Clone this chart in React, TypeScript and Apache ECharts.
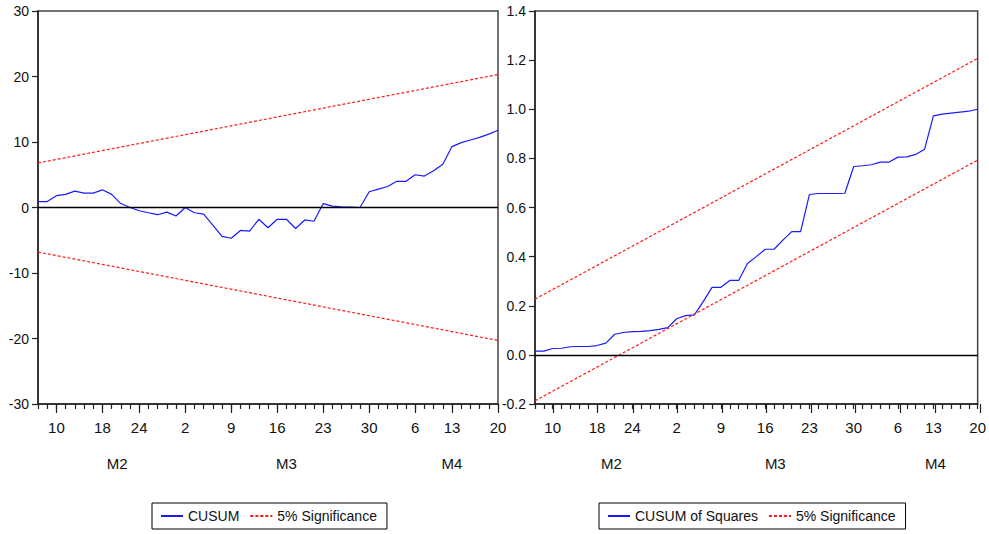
import React, { useEffect, useRef } from "react";
import * as echarts from "echarts";

// ---- Data ----
const febDays = [6, 7, 10, 11, 12, 13, 14, 18, 19, 20, 21, 24, 25, 26, 27, 28];
const marDays = [2, 3, 4, 5, 6, 9, 10, 11, 12, 13, 16, 17, 18, 19, 20, 23, 24, 25, 26, 27, 30, 31];
const aprDays = [1, 2, 3, 6, 7, 8, 9, 13, 14, 15, 16, 17, 20];

const pad = (n: number) => (n < 10 ? "0" + n : String(n));
const dates: string[] = [
  ...febDays.map((d) => "2020-02-" + pad(d)),
  ...marDays.map((d) => "2020-03-" + pad(d)),
  ...aprDays.map((d) => "2020-04-" + pad(d)),
];

const labeledDates = [
  "2020-02-10", "2020-02-18", "2020-02-24", "2020-03-02", "2020-03-09", "2020-03-16",
  "2020-03-23", "2020-03-30", "2020-04-06", "2020-04-13", "2020-04-20",
];

const monthLabels = ["M2", "M3", "M4"];

const cusum = [
  0.9, 0.9, 1.8, 2.0, 2.5, 2.2, 2.2, 2.7, 2.0, 0.6,
  0.0, -0.5, -0.8, -1.1, -0.7, -1.3, 0.0, -0.8, -1.0, -2.7,
  -4.4, -4.7, -3.5, -3.6, -1.8, -3.1, -1.8, -1.8, -3.2, -1.9,
  -2.1, 0.6, 0.2, 0.1, 0.05, 0.0, 2.4, 2.8, 3.2, 4.0,
  4.0, 5.0, 4.8, 5.6, 6.6, 9.3, 9.9, 10.3, 10.7, 11.2,
  11.8,
];
const cusumUpperEnds = [6.8, 20.3];
const cusumLowerEnds = [-6.8, -20.3];

const cusumSq = [
  0.015, 0.015, 0.026, 0.027, 0.033, 0.034, 0.034, 0.038, 0.048, 0.084,
  0.091, 0.095, 0.096, 0.099, 0.104, 0.111, 0.147, 0.16, 0.163, 0.217,
  0.275, 0.275, 0.303, 0.303, 0.372, 0.40, 0.43, 0.43, 0.467, 0.502,
  0.502, 0.653, 0.657, 0.657, 0.657, 0.658, 0.767, 0.77, 0.774, 0.785,
  0.785, 0.805, 0.806, 0.816, 0.837, 0.973, 0.98, 0.984, 0.988, 0.992,
  1.0,
];
const sqUpperEnds = [0.227, 1.207];
const sqLowerEnds = [-0.187, 0.793];

// ---- Layout / style ----
const FONT = "'Liberation Sans', Arial, sans-serif";
const GL = { left: 38, top: 11, width: 460, height: 393 };
const GR = { left: 535, top: 11, width: 445, height: 393 };
const monthAnchor = [8.6, 27, 45];
const BLUE = "#1a1aff";
const RED = "#ff1a1a";

const endsToSeries = (ends: number[]) =>
  dates.map((_, i) => (i === 0 ? ends[0] : i === dates.length - 1 ? ends[1] : null));

export default function App() {
  const ref = useRef<HTMLDivElement>(null);

  useEffect(() => {
    if (!ref.current) return;
    const chart = echarts.init(ref.current, undefined, { renderer: "svg" });
    const labeled = new Set(labeledDates);
    const axisColor = "#222";

    const mainX = (gridIndex: number) => ({
      type: "category",
      gridIndex,
      data: dates,
      boundaryGap: false,
      axisLine: { show: true, onZero: false, lineStyle: { color: axisColor, width: 1.5 } },
      axisTick: { show: true, interval: 0, length: 5, lineStyle: { color: axisColor, width: 1.2 } },
      axisLabel: {
        interval: (_i: number, v: string) => labeled.has(v),
        formatter: (v: string) => String(Number(v.slice(8))),
        color: "#111",
        fontSize: 15,
        fontFamily: FONT,
        margin: 16,
      },
      splitLine: { show: false },
    });
    const longTickX = (gridIndex: number) => ({
      type: "category",
      gridIndex,
      data: dates,
      boundaryGap: false,
      axisLine: { show: false, onZero: false },
      axisTick: {
        show: true,
        interval: (_i: number, v: string) => labeled.has(v),
        length: 9,
        lineStyle: { color: axisColor, width: 1.2 },
      },
      axisLabel: { show: false },
      splitLine: { show: false },
    });
    const hiddenY = (gridIndex: number) => ({
      type: "value",
      gridIndex,
      show: false,
      min: 0,
      max: 1,
    });

    const zeroLine = {
      silent: true,
      symbol: ["none", "none"],
      label: { show: false },
      lineStyle: { color: "#000", type: "solid", width: 1.3 },
      data: [{ yAxis: 0 }],
    };

    const boundStyle = { color: RED, width: 1.2, type: [3, 2] };

    const monthText = (g: typeof GL) =>
      monthLabels.map((m, i) => ({
        type: "text",
        x: g.left + (monthAnchor[i] / (dates.length - 1)) * g.width,
        y: 463,
        style: {
          text: m,
          align: "center",
          verticalAlign: "middle",
          fontSize: 15,
          fontFamily: FONT,
          fill: "#111",
        },
      }));

    const legendBase = {
      orient: "horizontal",
      top: 503,
      borderColor: "#000",
      borderWidth: 1,
      padding: [6, 10, 6, 8],
      itemGap: 10,
      itemWidth: 22,
      itemHeight: 12,
      selectedMode: false,
      itemStyle: { opacity: 0 },
      textStyle: { fontSize: 14, fontFamily: FONT, color: "#111" },
    };

    chart.setOption({
      animation: false,
      backgroundColor: "#fff",
      grid: [
        { ...GL, show: true, borderColor: "#444", borderWidth: 1.5, backgroundColor: "transparent" },
        { ...GR, show: true, borderColor: "#444", borderWidth: 1.5, backgroundColor: "transparent" },
        { ...GL, show: false },
        { ...GR, show: false },
      ],
      xAxis: [mainX(0), mainX(1), longTickX(2), longTickX(3)],
      yAxis: [
        {
          type: "value",
          gridIndex: 0,
          min: -30,
          max: 30,
          interval: 10,
          axisLine: { show: true, lineStyle: { color: axisColor, width: 1.5 } },
          axisTick: { show: true, length: 6, lineStyle: { color: axisColor, width: 1.2 } },
          axisLabel: { color: "#111", fontSize: 14, fontFamily: FONT, margin: 9 },
          splitLine: { show: false },
        },
        {
          type: "value",
          gridIndex: 1,
          min: -0.2,
          max: 1.4,
          interval: 0.2,
          axisLine: { show: true, lineStyle: { color: axisColor, width: 1.5 } },
          axisTick: { show: true, length: 6, lineStyle: { color: axisColor, width: 1.2 } },
          axisLabel: {
            color: "#111",
            fontSize: 14,
            fontFamily: FONT,
            margin: 9,
            formatter: (v: number) => v.toFixed(1),
          },
          splitLine: { show: false },
        },
        hiddenY(2),
        hiddenY(3),
      ],
      legend: [
        { ...legendBase, left: 152, data: ["CUSUM", "5% Significance"] },
        { ...legendBase, left: 599, data: ["CUSUM of Squares", "5% Significance"] },
      ],
      series: [
        {
          name: "CUSUM",
          type: "line",
          xAxisIndex: 0,
          yAxisIndex: 0,
          data: cusum,
          symbol: "none",
          lineStyle: { color: BLUE, width: 1.2 },
          itemStyle: { color: BLUE },
          markLine: zeroLine,
          z: 3,
        },
        {
          name: "5% Significance",
          type: "line",
          xAxisIndex: 0,
          yAxisIndex: 0,
          data: endsToSeries(cusumUpperEnds),
          connectNulls: true,
          symbol: "none",
          lineStyle: boundStyle,
          itemStyle: { color: RED },
        },
        {
          name: "5% Significance",
          type: "line",
          xAxisIndex: 0,
          yAxisIndex: 0,
          data: endsToSeries(cusumLowerEnds),
          connectNulls: true,
          symbol: "none",
          lineStyle: boundStyle,
          itemStyle: { color: RED },
        },
        {
          name: "CUSUM of Squares",
          type: "line",
          xAxisIndex: 1,
          yAxisIndex: 1,
          data: cusumSq,
          symbol: "none",
          lineStyle: { color: BLUE, width: 1.2 },
          itemStyle: { color: BLUE },
          markLine: zeroLine,
          z: 3,
        },
        {
          name: "5% Significance",
          type: "line",
          xAxisIndex: 1,
          yAxisIndex: 1,
          data: endsToSeries(sqUpperEnds),
          connectNulls: true,
          symbol: "none",
          lineStyle: boundStyle,
          itemStyle: { color: RED },
        },
        {
          name: "5% Significance",
          type: "line",
          xAxisIndex: 1,
          yAxisIndex: 1,
          data: endsToSeries(sqLowerEnds),
          connectNulls: true,
          symbol: "none",
          lineStyle: boundStyle,
          itemStyle: { color: RED },
        },
      ],
      graphic: [...monthText(GL), ...monthText(GR)],
    });

    return () => chart.dispose();
  }, []);

  return (
    <div
      ref={ref}
      style={{ position: "fixed", left: 0, top: 0, width: 989, height: 534, background: "#fff" }}
    />
  );
}
